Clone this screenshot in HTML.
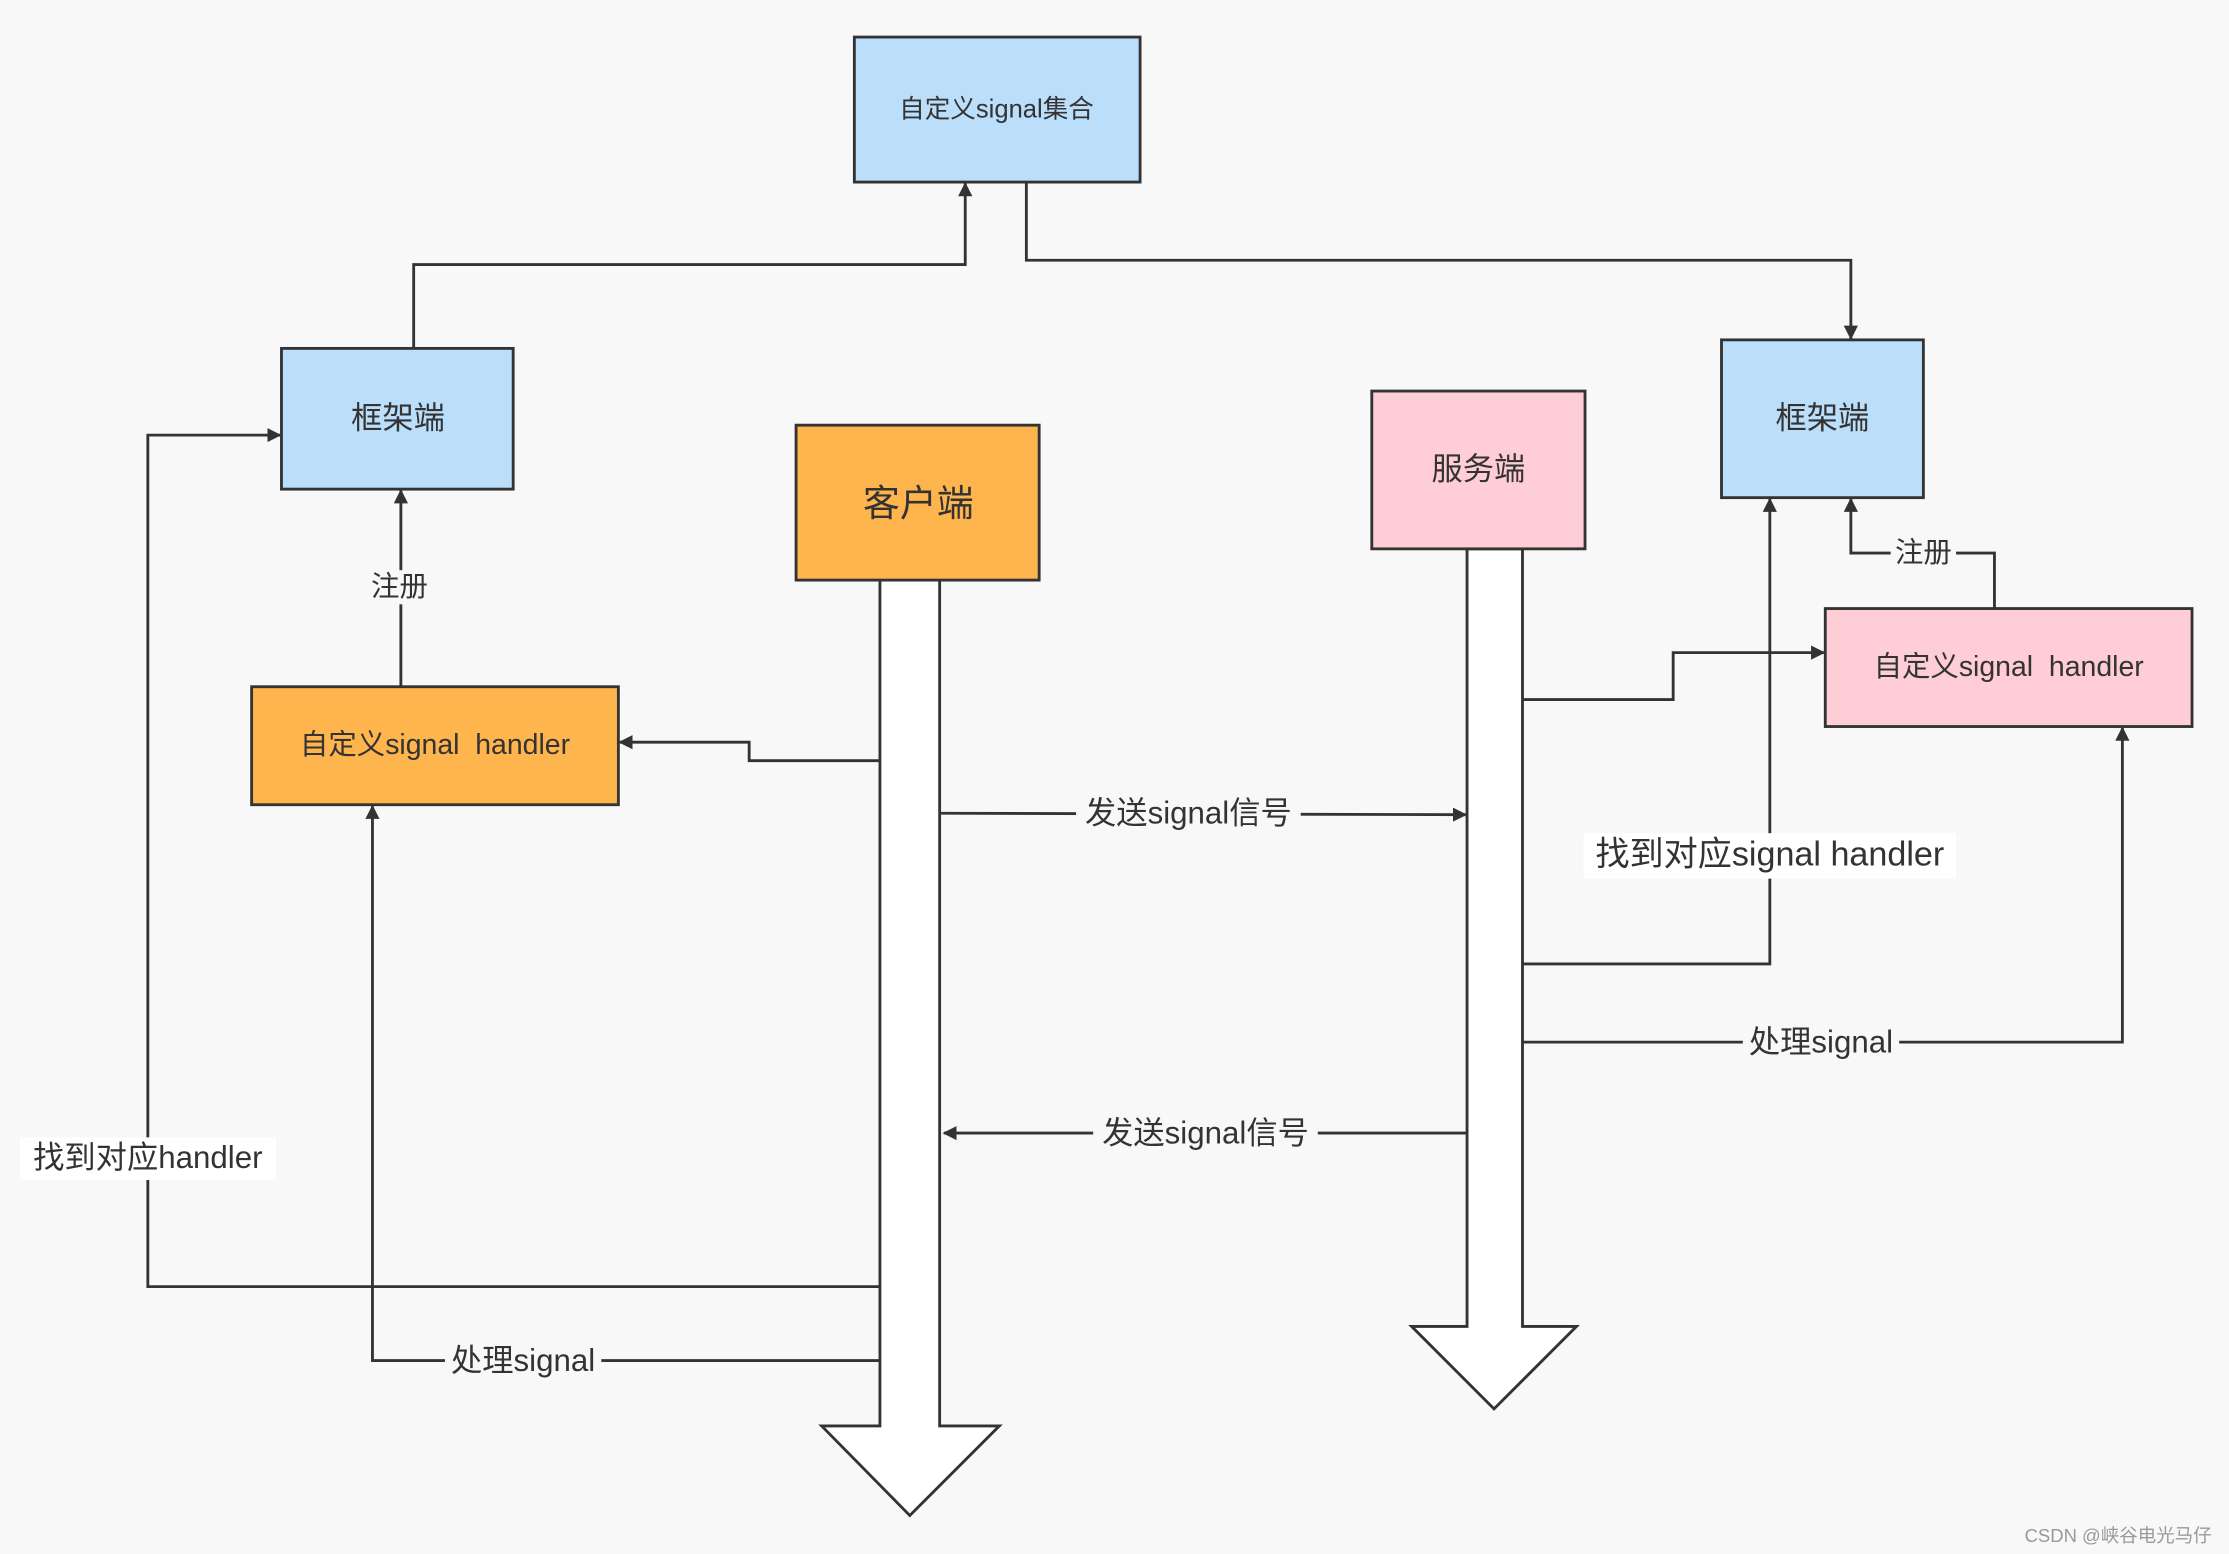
<!DOCTYPE html>
<html><head><meta charset="utf-8"><style>
html,body{margin:0;padding:0;background:#f8f8f8;}
svg{display:block;}
text{font-family:"Liberation Sans","Noto Sans CJK SC",sans-serif;fill:#333;}
</style></head><body>
<svg width="2229" height="1554" viewBox="0 0 1568 1093" xmlns="http://www.w3.org/2000/svg">
<defs>
<marker id="a" markerWidth="10" markerHeight="10" refX="9" refY="5" orient="auto" markerUnits="userSpaceOnUse"><path d="M0,0 L10,5 L0,10 Z" fill="#333"/></marker>
</defs>
<rect width="1568" height="1093" fill="#f8f8f8"/>
<g fill="none" stroke="#333" stroke-width="2">
<!-- connectors -->
<polyline points="291,245 291,186 679,186 679,129" marker-end="url(#a)"/>
<polyline points="722,128 722,183 1302,183 1302,238" marker-end="url(#a)"/>
<polyline points="282,483 282,345" marker-end="url(#a)"/>
<polyline points="619,535 527,535 527,522 436,522" marker-end="url(#a)"/>
<polyline points="662,572 1031,573" marker-end="url(#a)"/>
<polyline points="1071,492 1177,492 1177,459 1283,459" marker-end="url(#a)"/>
<polyline points="1403,428 1403,389 1302,389 1302,351" marker-end="url(#a)"/>
<polyline points="1071,678 1245,678 1245,351" marker-end="url(#a)"/>
<polyline points="1071,733 1493,733 1493,512" marker-end="url(#a)"/>
<polyline points="1032,797 664,797" marker-end="url(#a)"/>
<polyline points="619,905 104,905 104,306 197,306" marker-end="url(#a)"/>
<polyline points="619,957 262,957 262,567" marker-end="url(#a)"/>
</g>
<!-- big arrows -->
<path d="M619,408 L661,408 L661,1003 L703,1003 L640,1066 L578,1003 L619,1003 Z" fill="#fff" stroke="#333" stroke-width="2"/>
<path d="M1032,386 L1071,386 L1071,933 L1109,933 L1051,991 L993,933 L1032,933 Z" fill="#fff" stroke="#333" stroke-width="2"/>
<!-- boxes -->
<g stroke="#333" stroke-width="2">
<rect x="601" y="26" width="201" height="102" fill="#bbdefb"/>
<rect x="198" y="245" width="163" height="99" fill="#bbdefb"/>
<rect x="1211" y="239" width="142" height="111" fill="#bbdefb"/>
<rect x="560" y="299" width="171" height="109" fill="#ffb54d"/>
<rect x="965" y="275" width="150" height="111" fill="#ffcdd5"/>
<rect x="177" y="483" width="258" height="83" fill="#ffb54d"/>
<rect x="1284" y="428" width="258" height="83" fill="#ffcdd5"/>
</g>
<g text-anchor="middle" dominant-baseline="central">
<text x="701" y="77" font-size="18">自定义signal集合</text>
<text x="280" y="294" font-size="22">框架端</text>
<text x="1282" y="294" font-size="22">框架端</text>
<text x="646" y="354" font-size="26">客户端</text>
<text x="1040" y="330" font-size="22">服务端</text>
<text x="306" y="524" font-size="20" xml:space="preserve">自定义signal  handler</text>
<text x="1413" y="469" font-size="20" xml:space="preserve">自定义signal  handler</text>
</g>
<!-- labels with background -->
<g font-size="22" text-anchor="middle" dominant-baseline="central">
<rect x="258" y="401" width="46" height="24" fill="#f8f8f8"/><text x="281" y="413" font-size="20">注册</text>
<rect x="1330" y="377" width="46" height="24" fill="#f8f8f8"/><text x="1353" y="389" font-size="20">注册</text>
<rect x="757" y="558" width="158" height="28" fill="#f8f8f8"/><text x="836" y="572">发送signal信号</text>
<rect x="769" y="783" width="158" height="28" fill="#f8f8f8"/><text x="848" y="797">发送signal信号</text>
<rect x="1114" y="586" width="262" height="32" fill="#fff"/><text x="1245" y="601" font-size="24">找到对应signal handler</text>
<rect x="1226" y="719" width="110" height="28" fill="#f8f8f8"/><text x="1281" y="733">处理signal</text>
<rect x="313" y="943" width="110" height="28" fill="#f8f8f8"/><text x="368" y="957">处理signal</text>
<rect x="14" y="800" width="180" height="30" fill="#fff"/><text x="104" y="814">找到对应handler</text>
</g>
<text x="1490" y="1080" font-size="13" text-anchor="middle" dominant-baseline="central" style="fill:#999">CSDN @峡谷电光马仔</text>
</svg>
</body></html>
